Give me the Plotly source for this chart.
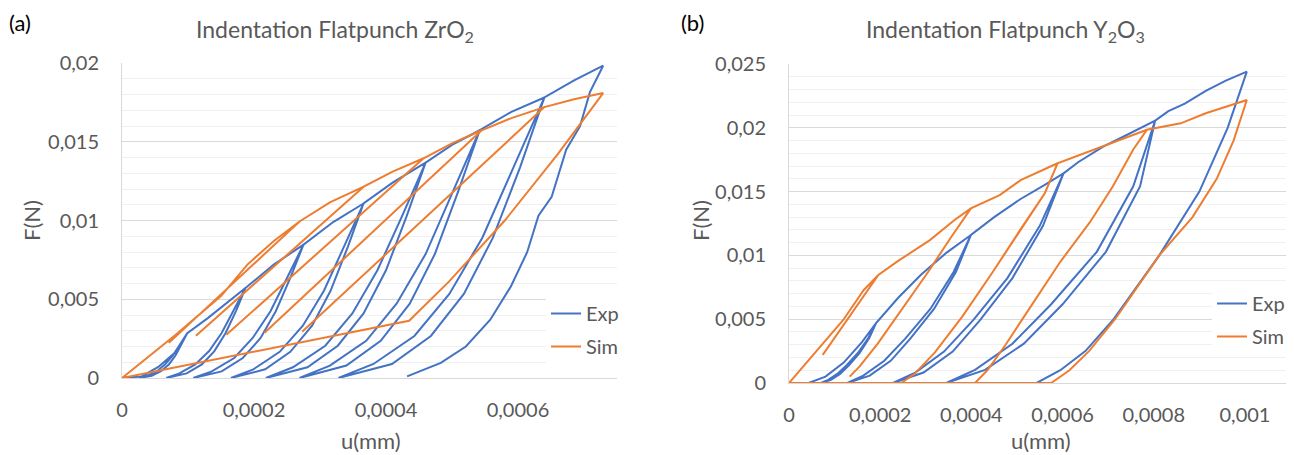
import plotly.graph_objects as go

# units used in the arrays below
U_UNIT = 1e-4   # mm
F_UNIT = 1e-3   # N

# ---------------- (a) ZrO2 ----------------
ZRO2_EXP_U = [0, 0.3, 0.55, 0.8, 0.99,
              0.88, 0.77, 0.65, 0.53, 0.38, 0.26,
              0.45, 0.59, 0.71, 0.81, 0.90, 0.99,
              1.3, 1.87,
              1.69, 1.51, 1.32, 1.11, 0.87, 0.67,
              0.98, 1.21, 1.40, 1.57, 1.73, 1.87,
              2.3, 2.75,
              2.50, 2.25, 1.98, 1.70, 1.36, 1.08,
              1.51, 1.83, 2.10, 2.33, 2.55, 2.75,
              3.2, 3.66,
              3.36, 3.06, 2.74, 2.39, 1.99, 1.65,
              2.17, 2.55, 2.88, 3.16, 3.42, 3.66,
              4.1, 4.60,
              4.24, 3.87, 3.49, 3.08, 2.59, 2.18,
              2.81, 3.27, 3.66, 4.00, 4.31, 4.60,
              5.0, 5.42,
              5.01, 4.60, 4.16, 3.70, 3.15, 2.69,
              3.40, 3.92, 4.36, 4.74, 5.09, 5.42,
              5.9, 6.40,
              5.93, 5.46, 4.96, 4.43, 3.81, 3.28,
              4.09, 4.68, 5.18, 5.62, 6.03, 6.40,
              6.85, 7.29,
              7.09, 6.94, 6.73, 6.51, 6.31, 6.14, 5.89, 5.58, 5.21, 4.83, 4.32]
ZRO2_EXP_F = [0, 0.1, 0.7, 1.6, 2.85,
              2.14, 1.43, 0.86, 0.43, 0.14, 0,
              0.14, 0.43, 0.86, 1.43, 2.14, 2.85,
              3.8, 5.71,
              4.28, 2.86, 1.71, 0.86, 0.29, 0,
              0.29, 0.86, 1.71, 2.86, 4.28, 5.71,
              7.2, 8.47,
              6.35, 4.24, 2.54, 1.27, 0.42, 0,
              0.42, 1.27, 2.54, 4.24, 6.35, 8.47,
              9.9, 11.08,
              8.31, 5.54, 3.32, 1.66, 0.55, 0,
              0.55, 1.66, 3.32, 5.54, 8.31, 11.08,
              12.4, 13.67,
              10.25, 6.84, 4.10, 2.05, 0.68, 0,
              0.68, 2.05, 4.10, 6.84, 10.25, 13.67,
              14.8, 15.73,
              11.80, 7.87, 4.72, 2.36, 0.79, 0,
              0.79, 2.36, 4.72, 7.87, 11.80, 15.73,
              16.9, 17.81,
              13.36, 8.91, 5.34, 2.67, 0.89, 0,
              0.89, 2.67, 5.34, 8.91, 13.36, 17.81,
              18.9, 19.83,
              18.15, 16.0, 14.5, 11.5, 10.3, 8.0, 5.8, 3.7, 2.0, 0.96, 0.1]

ZRO2_SIM_U = [0, 0.8, 1.5, 1.9, 2.3, 2.69,
              0.71, 2.69,
              3.15, 3.67,
              1.12, 3.67,
              4.1, 4.57,
              1.58, 4.57,
              5.0, 5.45,
              2.16, 5.45,
              5.9, 6.40,
              2.73, 6.40,
              6.85, 7.29,
              6.6, 5.8, 4.95, 4.35,
              0]
ZRO2_SIM_F = [0, 2.7, 5.2, 7.2, 8.7, 9.94,
              2.23, 9.94,
              11.15, 12.17,
              2.68, 12.17,
              13.1, 13.95,
              2.74, 13.95,
              14.9, 15.73,
              2.87, 15.73,
              16.5, 17.20,
              2.93, 17.20,
              17.7, 18.09,
              14.2, 10.0, 6.1, 3.63,
              0]

# ---------------- (b) Y2O3 ----------------
Y2O3_EXP_U = [0, 0.43, 0.8, 1.2, 1.6, 1.91,
              1.74, 1.51, 1.27, 1.06, 0.86, 0.70,
              0.92, 1.12, 1.32, 1.55, 1.76, 1.91,
              2.4, 2.9, 3.45, 3.99,
              3.61, 3.10, 2.55, 2.09, 1.63, 1.28,
              1.77, 2.23, 2.66, 3.18, 3.66, 3.99,
              4.5, 5.07, 5.6, 6.02,
              5.50, 4.79, 4.04, 3.40, 2.77, 2.28,
              2.95, 3.59, 4.19, 4.90, 5.57, 6.02,
              6.34, 6.88, 7.33, 8.03,
              7.55, 6.75, 5.75, 4.90, 4.08, 3.45,
              4.30, 5.15, 6.00, 6.95, 7.70, 8.03,
              8.32, 8.68, 9.14, 9.58, 10.04,
              9.62, 9.0, 8.12, 7.12, 6.5, 5.95, 5.43]
Y2O3_EXP_F = [0, 0, 0.5, 1.6, 3.2, 4.7,
              3.53, 2.35, 1.41, 0.71, 0.24, 0,
              0.24, 0.71, 1.41, 2.35, 3.53, 4.7,
              6.7, 8.5, 10.2, 11.6,
              8.7, 5.8, 3.48, 1.74, 0.58, 0,
              0.58, 1.74, 3.48, 5.8, 8.7, 11.6,
              13.0, 14.4, 15.5, 16.43,
              12.32, 8.22, 4.93, 2.46, 0.82, 0,
              0.82, 2.46, 4.93, 8.22, 12.32, 16.43,
              17.3, 18.5, 19.3, 20.56,
              15.42, 10.28, 6.17, 3.08, 1.03, 0,
              1.03, 3.08, 6.17, 10.28, 15.42, 20.56,
              21.3, 21.9, 22.9, 23.7, 24.4,
              20.0, 15.0, 10.0, 5.0, 2.5, 1.0, 0]

Y2O3_SIM_U = [0, 0.56, 1.19, 1.64, 1.96,
              0.74, 1.96,
              2.37, 3.09, 3.63, 3.99,
              3.55, 3.05, 2.5, 1.95, 1.55, 1.33,
              1.55, 1.95, 2.5, 3.05, 3.55, 3.99,
              4.62, 5.08, 5.89,
              5.61, 5.07, 4.45, 3.8, 3.2, 2.75, 2.46,
              2.75, 3.2, 3.8, 4.45, 5.07, 5.61, 5.89,
              6.88, 7.85,
              7.55, 7.1, 6.6, 5.95, 5.3, 4.75, 4.35, 4.08,
              4.35, 4.75, 5.3, 5.95, 6.6, 7.1, 7.55, 7.85,
              8.59, 9.14, 10.04,
              9.75, 9.38, 8.85, 8.12, 7.15, 6.58, 6.15, 5.75,
              0]
Y2O3_SIM_F = [0, 2.33, 4.94, 7.29, 8.46,
              2.2, 8.46,
              9.51, 11.2, 12.77, 13.69,
              11.4, 8.7, 5.9, 3.1, 1.3, 0.5,
              1.3, 3.1, 5.9, 8.7, 11.4, 13.69,
              14.73, 15.9, 17.22,
              14.87, 12.0, 8.6, 5.2, 2.4, 0.7, 0,
              0.7, 2.4, 5.2, 8.6, 12.0, 14.87, 17.22,
              18.52, 19.85,
              18.3, 15.4, 12.6, 9.5, 6.0, 3.0, 1.0, 0,
              1.0, 3.0, 6.0, 9.5, 12.6, 15.4, 18.3, 19.85,
              20.35, 21.14, 22.18,
              19.0, 16.0, 13.0, 10.0, 5.0, 2.5, 1.0, 0,
              0]

# axis ticks
ZRO2_X_TICKS = [0, 0.0002, 0.0004, 0.0006]
ZRO2_X_LABELS = ["0", "0,0002", "0,0004", "0,0006"]
ZRO2_Y_TICKS = [0, 0.005, 0.01, 0.015, 0.02]
ZRO2_Y_LABELS = ["0", "0,005", "0,01", "0,015", "0,02"]
Y2O3_X_TICKS = [0, 0.0002, 0.0004, 0.0006, 0.0008, 0.001]
Y2O3_X_LABELS = ["0", "0,0002", "0,0004", "0,0006", "0,0008", "0,001"]
Y2O3_Y_TICKS = [0, 0.005, 0.01, 0.015, 0.02, 0.025]
Y2O3_Y_LABELS = ["0", "0,005", "0,01", "0,015", "0,02", "0,025"]

BLUE = "#4472C4"
ORANGE = "#ED7D31"
GRAY_TXT = "#595959"
FONT = "Lato"

# the page body has an 8px margin, so the figure is offset by 8px
OFF = 8
W, H = 1294, 455


def px(x):
    return (x - OFF) / W


def py(y):
    return 1 - (y - OFF) / H


def scale(vals, unit):
    return [v * unit for v in vals]


fig = go.Figure()
fig.add_trace(go.Scatter(x=scale(ZRO2_EXP_U, U_UNIT), y=scale(ZRO2_EXP_F, F_UNIT), mode="lines",
                         name="Exp", line=dict(color=BLUE, width=2), xaxis="x", yaxis="y",
                         legend="legend", legendgroup="a_exp"))
fig.add_trace(go.Scatter(x=scale(ZRO2_SIM_U, U_UNIT), y=scale(ZRO2_SIM_F, F_UNIT), mode="lines",
                         name="Sim", line=dict(color=ORANGE, width=2), xaxis="x", yaxis="y",
                         legend="legend", legendgroup="a_sim"))
fig.add_trace(go.Scatter(x=scale(Y2O3_EXP_U, U_UNIT), y=scale(Y2O3_EXP_F, F_UNIT), mode="lines",
                         name="Exp", line=dict(color=BLUE, width=2), xaxis="x2", yaxis="y2",
                         legend="legend2", legendgroup="b_exp"))
fig.add_trace(go.Scatter(x=scale(Y2O3_SIM_U, U_UNIT), y=scale(Y2O3_SIM_F, F_UNIT), mode="lines",
                         name="Sim", line=dict(color=ORANGE, width=2), xaxis="x2", yaxis="y2",
                         legend="legend2", legendgroup="b_sim"))

tickfont = dict(family=FONT, size=20, color=GRAY_TXT)
xcommon = dict(showgrid=False, zeroline=False, showline=True, linecolor="#d9d9d9", linewidth=1,
               ticks="", tickmode="array", tickfont=tickfont, ticklabelstandoff=14, fixedrange=True)
ycommon = dict(showgrid=True, gridcolor="#d9d9d9", gridwidth=1, zeroline=False, showline=True,
               linecolor="#d9d9d9", linewidth=1, ticks="", tickmode="array", tickfont=tickfont,
               ticklabelstandoff=18,
               minor=dict(tickmode="linear", tick0=0, dtick=0.001, showgrid=True,
                          gridcolor="#f0f0f0", gridwidth=1, ticks=""))
legfont = dict(family=FONT, size=20, color=GRAY_TXT)

fig.update_layout(
    width=W, height=H, margin=dict(l=0, r=0, t=0, b=0, pad=0, autoexpand=False),
    paper_bgcolor="white", plot_bgcolor="white",
    xaxis=dict(domain=[px(122), px(617)], range=[0, 0.00075], anchor="y",
               tickvals=ZRO2_X_TICKS, ticktext=ZRO2_X_LABELS, **xcommon),
    yaxis=dict(domain=[py(378), py(63)], range=[0, 0.02], anchor="x",
               tickvals=ZRO2_Y_TICKS, ticktext=ZRO2_Y_LABELS, **ycommon),
    xaxis2=dict(domain=[px(789), px(1294)], range=[0, 0.0011075], anchor="y2",
                tickvals=Y2O3_X_TICKS, ticktext=Y2O3_X_LABELS, **xcommon),
    yaxis2=dict(domain=[py(383), py(64)], range=[0, 0.025], anchor="x2",
                tickvals=Y2O3_Y_TICKS, ticktext=Y2O3_Y_LABELS, **ycommon),
    legend=dict(x=px(546), y=py(294), xanchor="left", yanchor="top", bgcolor="white",
                font=legfont, borderwidth=0, tracegroupgap=4),
    legend2=dict(x=px(1212), y=py(284), xanchor="left", yanchor="top", bgcolor="white",
                 font=legfont, borderwidth=0, tracegroupgap=4),
    showlegend=True,
)

annots = [
    dict(text="Indentation Flatpunch ZrO<sub>2</sub>", x=335, y=30, size=23, color=GRAY_TXT, angle=0),
    dict(text="Indentation Flatpunch Y<sub>2</sub>O<sub>3</sub>", x=1005, y=30, size=23, color=GRAY_TXT, angle=0),
    dict(text="u(mm)", x=371, y=440, size=22, color=GRAY_TXT, angle=0),
    dict(text="u(mm)", x=1041, y=440, size=22, color=GRAY_TXT, angle=0),
    dict(text="F(N)", x=31, y=221, size=22, color=GRAY_TXT, angle=-90),
    dict(text="F(N)", x=700, y=221, size=22, color=GRAY_TXT, angle=-90),
    dict(text="(a)", x=20, y=22, size=22, color="black", angle=0),
    dict(text="(b)", x=692, y=22, size=22, color="black", angle=0),
]
for a in annots:
    fig.add_annotation(text=a["text"], x=px(a["x"]), y=py(a["y"]), xref="paper", yref="paper",
                       xanchor="center", yanchor="middle", showarrow=False, textangle=a["angle"],
                       font=dict(family=FONT, size=a["size"], color=a["color"]))

fig.write_html("out.html")
